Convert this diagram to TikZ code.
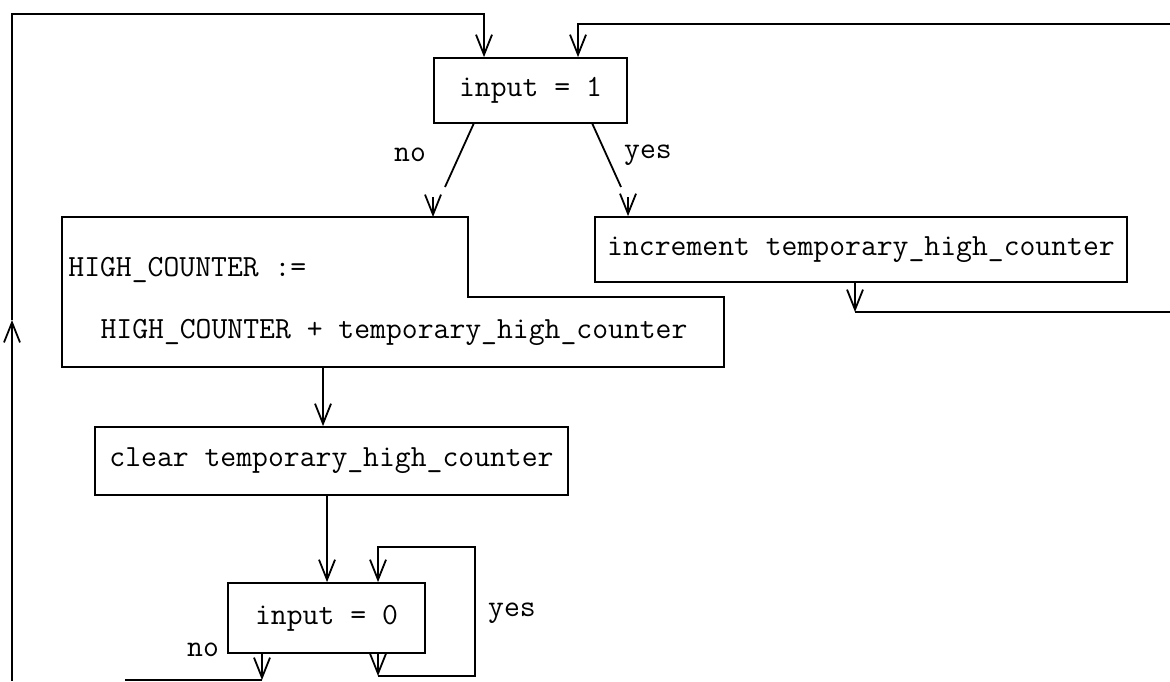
\documentclass[tikz,border=0pt]{standalone}
\usetikzlibrary{arrows.meta}
\tikzset{
  line/.style={line width=0.9pt, line join=miter},
  arr/.style={line, -{Straight Barb[length=10pt,width=8pt,line width=0.9pt]}},
  box/.style={draw, line width=0.9pt, rectangle, inner sep=0pt, font=\ttfamily\fontsize{15.4}{18}\selectfont},
  txt/.style={inner sep=0pt, font=\ttfamily\fontsize{15.4}{18}\selectfont}
}
\begin{document}
\begin{tikzpicture}[x=0.5pt,y=-0.5pt]
\useasboundingbox (0,0) rectangle (1170,681);
% boxes
\node[box, minimum width=96.5pt, minimum height=32.5pt] (in1) at (530.5,90.5) {input = 1};
\node[box, minimum width=266pt, minimum height=32.5pt] (inc) at (861,249.5) {increment temporary\_high\_counter};
\node[box, minimum width=236.5pt, minimum height=34pt] (clr) at (331.5,461) {clear temporary\_high\_counter};
\node[box, minimum width=98.5pt, minimum height=35pt] (in0) at (326.5,618) {input = 0};
% HIGH_COUNTER polygon
\coordinate (h1) at (62,217);
\coordinate (h2) at (468,217);
\coordinate (h3) at (468,297);
\coordinate (h4) at (724,297);
\coordinate (h5) at (724,367);
\coordinate (h6) at (62,367);
\draw[line] (h1) -- (h2) -- (h3) -- (h4) -- (h5) -- (h6) -- cycle;
\node[txt, anchor=west] (hc1) at (68,270) {HIGH\_COUNTER :=};
\node[txt] (hc2) at (394,332) {HIGH\_COUNTER + temporary\_high\_counter};
% labels
\node[txt] (lno1) at (410,155) {no};
\node[txt] (lyes1) at (648,155) {yes};
\node[txt] (lyes2) at (512,613) {yes};
\node[txt] (lno2) at (203,650) {no};
% outer left loop
\coordinate (L0) at (12,681);
\coordinate (L1) at (12,320);
\coordinate (L2) at (12,14);
\coordinate (L3) at (484,14);
\draw[arr] (L0) -- (L1);
\draw[arr] (L1) -- (L2) -- (L3) -- (L3 |- in1.north);
% right top loop
\coordinate (R0) at (1170,24);
\coordinate (R1) at (578,24);
\draw[arr] (R0) -- (R1) -- (R1 |- in1.north);
% no / yes branches
\coordinate (n0) at (474,123);
\coordinate (n1) at (445,187);
\draw[line] (n0) -- (n1);
\coordinate (nv) at (433,197);
\draw[arr] (nv) -- (nv |- h1);
\coordinate (y0) at (592,123);
\coordinate (y1) at (621,187);
\draw[line] (y0) -- (y1);
\coordinate (yv) at (628,197);
\draw[arr] (yv) -- (yv |- inc.north);
% increment return
\coordinate (i0) at (855,282);
\coordinate (i1) at (855,312);
\coordinate (i2) at (1170,312);
\draw[arr] (i0) -- (i1);
\draw[line] (i1) -- (i2);
% down the column
\coordinate (d0) at (323,367);
\draw[arr] (d0) -- (d0 |- clr.north);
\coordinate (d1) at (327,495);
\draw[arr] (d1) -- (d1 |- in0.north);
% input = 0 yes loop
\coordinate (z0) at (378,653);
\coordinate (z1) at (378,676);
\coordinate (z2) at (475,676);
\coordinate (z3) at (475,547);
\coordinate (z4) at (378,547);
\draw[arr] (z0) -- (z1);
\draw[arr] (z1) -- (z2) -- (z3) -- (z4) -- (z4 |- in0.north);
% no exit
\coordinate (o0) at (262,653);
\coordinate (o1) at (262,680);
\coordinate (o2) at (125,680);
\draw[arr] (o0) -- (o1);
\draw[line] (o1) -- (o2);
\end{tikzpicture}
\end{document}
